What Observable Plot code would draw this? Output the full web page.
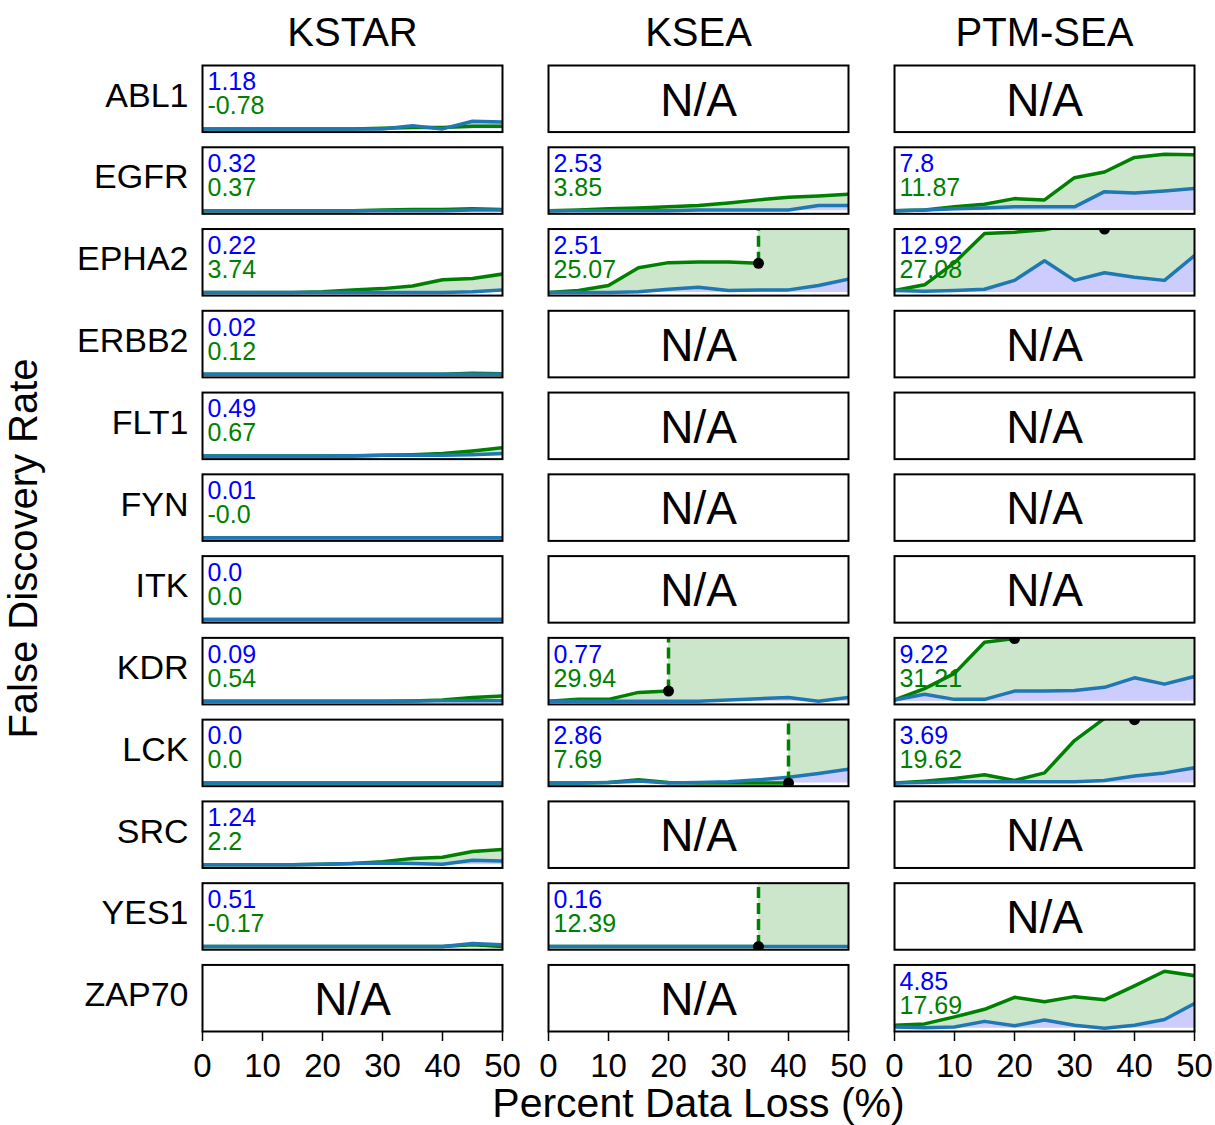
<!DOCTYPE html>
<html><head><meta charset="utf-8">
<script src="https://cdn.jsdelivr.net/npm/d3@7"></script>
<script src="https://cdn.jsdelivr.net/npm/@observablehq/plot@0.6"></script>
<style>body{margin:0;background:#fff}</style>
</head><body><div id="chart"></div>
<script>
const methods = ["KSTAR", "KSEA", "PTM-SEA"];
const kinases = ["ABL1","EGFR","EPHA2","ERBB2","FLT1","FYN","ITK","KDR","LCK","SRC","YES1","ZAP70"];
const dataLoss = [0, 5, 10, 15, 20, 25, 30, 35, 40, 45, 50];
const xTicks = [0, 10, 20, 30, 40, 50];

// blue series (per kinase, null = N/A)
const kstarBlue = [
  [0,0,0,0,0,0,0,0.05,0,0.12,0.11],
  [0,0,0,0,0,0,0,0,0,0.01,0.01],
  [0,0,0,0,0,0,0,0,0,0.01,0.04],
  [0,0,0,0,0,0,0,0,0,0,0],
  [0,0,0,0,0,0.005,0.01,0.01,0.01,0.02,0.04],
  [0,0,0,0,0,0,0,0,0,0,0],
  [0,0,0,0,0,0,0,0,0,0,0],
  [0,0,0,0,0,0,0,0.005,0.01,0.01,0.01],
  [0,0,0,0,0,0,0,0,0,0,0],
  [0,0,0,0,0.01,0.02,0.03,0.02,0.01,0.07,0.06],
  [0,0,0,0,0,0,0,0,0,0.05,0.03],
  null
];
const kstarGreen = [
  [0,0,0,0,0,0,0.01,0.02,0.02,0.04,0.04],
  [0,0,0,0,0,0,0.01,0.02,0.02,0.03,0.02],
  [0,0,0,0,0.01,0.04,0.06,0.10,0.20,0.22,0.29],
  [0,0,0,0,0,0,0,0,0,0.015,0.005],
  [0,0,0,0,0,0,0.01,0.02,0.04,0.08,0.13],
  [0,0,0,0,0,0,0,0,0,0,0],
  [0,0,0,0,0,0,0,0,0,0,0],
  [0,0,0,0,0,0,0,0.005,0.02,0.06,0.085],
  [0,0,0,0,0,0,0,0,0,0,0],
  [0,0,0,0,0.01,0.02,0.05,0.10,0.12,0.21,0.24],
  [0,0,0,0,0,0,0,0,0,0.03,0],
  null
];
const kseaBlue = [
  null,
  [0,0,0,0,0,0.01,0.01,0.01,0.01,0.08,0.08],
  [0,0,0,0.01,0.05,0.08,0.03,0.04,0.04,0.11,0.21],
  null, null, null, null,
  [0,0,0,0,0,0,0.02,0.04,0.06,0,0.06],
  [0,0,0.01,0.03,0,0.01,0.02,0.05,0.09,0.15,0.22],
  null,
  [0,0,0,0,0,0,0,0,0,0,0],
  null
];
const kseaGreen = [
  null,
  [0,0.01,0.03,0.04,0.06,0.08,0.12,0.17,0.21,0.23,0.26],
  [0,0.03,0.11,0.39,0.47,0.48,0.48,0.46],
  null, null, null, null,
  [0,0.03,0.03,0.14,0.16],
  [0,0,0.01,0.05,0.01,0,0,0,0],
  null,
  [0,0,0,0,0,0,0,0],
  null
];
const ptmBlue = [
  null,
  [0,0.01,0.03,0.04,0.06,0.06,0.06,0.30,0.28,0.31,0.35],
  [0.03,0.02,0.03,0.05,0.19,0.50,0.19,0.31,0.24,0.19,0.58],
  null, null, null, null,
  [0.02,0.11,0.03,0.03,0.16,0.16,0.17,0.22,0.37,0.27,0.39],
  [0,0.01,0.02,0.02,0.02,0.02,0.02,0.04,0.11,0.16,0.24],
  null, null,
  [0.02,0.01,0.02,0.11,0.04,0.13,0.05,0,0.05,0.14,0.39]
];
const ptmGreen = [
  null,
  [0,0.01,0.06,0.10,0.19,0.17,0.52,0.61,0.84,0.89,0.88],
  [0.03,0.12,0.47,0.93,0.95,0.99,1.08,1.05],
  null, null, null, null,
  [0.02,0.20,0.44,0.93,0.99],
  [0,0.03,0.07,0.13,0.04,0.16,0.67,1.02,1.03],
  null, null,
  [0.05,0.07,0.18,0.30,0.49,0.42,0.50,0.45,0.67,0.90,0.83]
];

// cutoff (percent data loss where the green curve stops), null = none
const kstarCutoff = [null,null,null,null,null,null,null,null,null,null,null,null];
const kseaCutoff  = [null,null,35,null,null,null,null,20,40,null,35,null];
const ptmCutoff   = [null,null,35,null,null,null,null,20,40,null,null,null];

// numbers in the top-left corners
const kstarBlueLabel  = ["1.18","0.32","0.22","0.02","0.49","0.01","0.0","0.09","0.0","1.24","0.51",null];
const kstarGreenLabel = ["-0.78","0.37","3.74","0.12","0.67","-0.0","0.0","0.54","0.0","2.2","-0.17",null];
const kseaBlueLabel   = [null,"2.53","2.51",null,null,null,null,"0.77","2.86",null,"0.16",null];
const kseaGreenLabel  = [null,"3.85","25.07",null,null,null,null,"29.94","7.69",null,"12.39",null];
const ptmBlueLabel    = [null,"7.8","12.92",null,null,null,null,"9.22","3.69",null,null,"4.85"];
const ptmGreenLabel   = [null,"11.87","27.08",null,null,null,null,"31.21","19.62",null,null,"17.69"];

const TOP = 1;
const Y_DOMAIN = [-0.05, TOP];

const blueBy = {"KSTAR": kstarBlue, "KSEA": kseaBlue, "PTM-SEA": ptmBlue};
const greenBy = {"KSTAR": kstarGreen, "KSEA": kseaGreen, "PTM-SEA": ptmGreen};
const cutBy = {"KSTAR": kstarCutoff, "KSEA": kseaCutoff, "PTM-SEA": ptmCutoff};
const blueLabBy = {"KSTAR": kstarBlueLabel, "KSEA": kseaBlueLabel, "PTM-SEA": ptmBlueLabel};
const greenLabBy = {"KSTAR": kstarGreenLabel, "KSEA": kseaGreenLabel, "PTM-SEA": ptmGreenLabel};

const lineRows = [], areaRows = [], labelRows = [], naRows = [], cutRows = [];
methods.forEach(m => kinases.forEach((k, j) => {
  const blue = blueBy[m][j];
  if (!blue) { naRows.push({method: m, kinase: k, text: "N/A"}); return; }
  const green = greenBy[m][j];
  const cut = cutBy[m][j];
  labelRows.push({method: m, kinase: k, blueLabel: blueLabBy[m][j], greenLabel: greenLabBy[m][j]});
  dataLoss.forEach((x, i) => {
    const g = i < green.length ? green[i] : null;
    lineRows.push({method: m, kinase: k, x, blue: blue[i], green: g});
    if (cut == null || x < cut) {
      areaRows.push({method: m, kinase: k, x, lo: blue[i], hi: Math.max(blue[i], g)});
    } else if (x === cut) {
      areaRows.push({method: m, kinase: k, x, lo: blue[i], hi: Math.max(blue[i], g)});
      areaRows.push({method: m, kinase: k, x, lo: blue[i], hi: TOP + 0.5});
    } else {
      areaRows.push({method: m, kinase: k, x, lo: blue[i], hi: TOP + 0.5});
    }
  });
  if (cut != null) {
    const i = dataLoss.indexOf(cut);
    cutRows.push({method: m, kinase: k, x: cut, y: Math.min(green[i], TOP)});
  }
}));

const F = {fx: "method", fy: "kinase"};
const font = "'Liberation Sans', Arial, Helvetica, sans-serif";

const chart = Plot.plot({
  width: 1215,
  height: 1125,
  marginLeft: 202,
  marginRight: 21,
  marginTop: 65,
  marginBottom: 94,
  style: {fontFamily: font, background: "white", color: "black"},
  fx: {domain: methods, paddingInner: 0.133, paddingOuter: 0, round: false},
  fy: {domain: kinases, paddingInner: 0.186, paddingOuter: 0, round: false},
  x: {domain: [0, 50]},
  y: {domain: Y_DOMAIN},
  marks: [
    Plot.areaY(lineRows, {...F, x: "x", y: "blue", fill: "#ccccff", clip: true}),
    Plot.areaY(areaRows, {...F, x: "x", y1: "lo", y2: "hi", fill: "#cce6cc", clip: true}),
    Plot.text(labelRows, {...F, text: "blueLabel", frameAnchor: "top-left", textAnchor: "start", lineAnchor: "top", dx: 5, dy: 7, fill: "#0000ff", fontSize: 25}),
    Plot.text(labelRows, {...F, text: "greenLabel", frameAnchor: "top-left", textAnchor: "start", lineAnchor: "top", dx: 5, dy: 31, fill: "#008000", fontSize: 25}),
    Plot.lineY(lineRows.filter(d => d.green != null), {...F, x: "x", y: "green", stroke: "#008000", strokeWidth: 3.5, clip: true}),
    Plot.lineY(lineRows, {...F, x: "x", y: "blue", stroke: "#1f77b4", strokeWidth: 3.5, clip: true}),
    Plot.ruleX(cutRows, {...F, x: "x", y1: "y", y2: TOP, stroke: "#008000", strokeWidth: 3.5, strokeDasharray: "11,5", clip: true}),
    Plot.dot(cutRows, {...F, x: "x", y: "y", r: 5.5, fill: "black", stroke: "none", clip: true}),
    Plot.text(naRows, {...F, text: "text", frameAnchor: "middle", fontSize: 46, dy: 2}),
    Plot.frame({stroke: "black", strokeWidth: 2}),
    Plot.axisFx({anchor: "top", fontSize: 40, tickSize: 0, tickPadding: 20, label: null}),
    Plot.axisFy({anchor: "left", fontSize: 34, tickSize: 0, tickPadding: 14, dy: -3, label: null}),
    Plot.axisX({anchor: "bottom", ticks: xTicks, tickSize: 10, tickPadding: 12, strokeWidth: 1.5, fontSize: 33, label: null}),
    Plot.axisX({anchor: "bottom", ticks: [], tickSize: 0, fontSize: 41, label: "Percent Data Loss (%)", labelAnchor: "center", labelArrow: "none", labelOffset: 85}),
    Plot.axisY({anchor: "left", ticks: [], tickSize: 0, fontSize: 40, label: "False Discovery Rate", labelAnchor: "center", labelArrow: "none", labelOffset: 194})
  ]
});
document.getElementById("chart").appendChild(chart);
</script>
</body></html>
